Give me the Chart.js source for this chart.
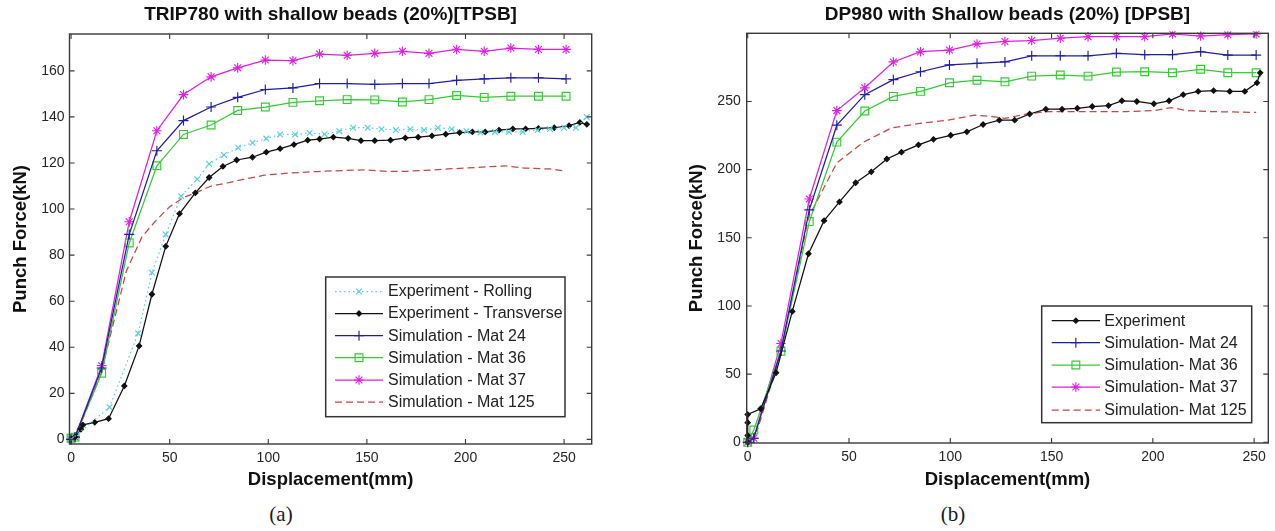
<!DOCTYPE html>
<html>
<head>
<meta charset="utf-8">
<script src="https://cdn.jsdelivr.net/npm/chart.js@4.4.1/dist/chart.umd.min.js"></script>
<style>
  html, body { margin:0; padding:0; background:#fff; width:1275px; height:531px; overflow:hidden; }
  #cA { position:absolute; left:0; top:0; }
  #cB { position:absolute; left:640px; top:0; }
  .cap { position:absolute; top:502px; font-family:"Liberation Serif","Times New Roman",serif; font-size:21px; color:#1a1a1a; transform:translateX(-50%); }
</style>
</head>
<body>
<canvas id="cA" width="640" height="500"></canvas>
<canvas id="cB" width="635" height="500"></canvas>
<div class="cap" style="left:281px">(a)</div>
<div class="cap" style="left:953px">(b)</div>
<script>
// ---------- Chart (a): TRIP780 ----------
const xTicksA = [0, 50, 100, 150, 200, 250];
const yTicksA = [0, 20, 40, 60, 80, 100, 120, 140, 160];
const simX_A  = [0, 2, 15.5, 29.5, 43.5, 57, 71, 84.5, 98.5, 112.5, 126, 140, 154, 168, 181.5, 195.5, 209.5, 223, 237, 251];
const mat24_A = [0, 1, 31, 89, 125.3, 138.4, 144.3, 148.5, 151.9, 152.6, 154.5, 154.5, 154.1, 154.5, 154.5, 155.9, 156.5, 157, 157, 156.5];
const mat36_A = [0.5, 1, 28.7, 85.3, 118.8, 132.4, 136.5, 142.8, 144.3, 146.3, 147, 147.5, 147.4, 146.5, 147.5, 149.3, 148.5, 149, 149, 149];
const mat37_A = [0, 1, 32, 94.5, 134, 149.7, 157.4, 161.3, 164.7, 164.4, 167.3, 166.7, 167.6, 168.5, 167.6, 169.3, 168.5, 169.9, 169.3, 169.3];
const mat125X_A = [0, 5, 15, 28, 36, 43, 50, 57, 63, 71, 80, 88, 98, 110, 125, 140, 150, 160, 170, 180, 191, 205, 220, 230, 243, 250];
const mat125_A  = [0, 7, 28, 73, 88, 95, 101, 105, 107, 110, 111.5, 113, 114.7, 115.6, 116.3, 116.8, 117, 116.4, 116.4, 116.8, 117.4, 118, 118.8, 117.8, 117.4, 116.6];
const transX_A = [0, 2, 5, 6, 12, 19, 27, 34.5, 41, 48, 55, 63, 70, 77, 84, 92, 99, 106, 113, 120, 126, 133, 140.5, 147, 154, 162, 169.5, 176, 183, 190, 197, 203.5, 210, 217, 224, 230.5, 237, 245, 252.5, 258, 261.5];
const trans_A  = [0, 1, 4.4, 6.3, 7.4, 9, 23.2, 40.6, 63, 83.8, 98, 107, 113.7, 118.5, 121.3, 122.5, 124.7, 126.2, 128, 129.9, 130.4, 131.2, 130.7, 129.7, 129.7, 129.9, 130.9, 131.2, 131.8, 132.5, 133.2, 133.5, 133.5, 134.3, 134.8, 134.8, 135, 135.3, 136.2, 137.6, 136.8];
const rollX_A = [0, 19.5, 34, 41, 48, 55.8, 64, 70, 77.5, 84.7, 92, 99, 106, 113.6, 121, 128.5, 136, 143, 150.4, 157.4, 164.7, 172, 179, 186, 193, 200.5, 207.6, 215, 222, 229, 236.6, 242.8, 250, 256, 261.5];
const roll_A  = [0, 14, 46, 72.4, 89, 105.6, 113, 119.6, 123.5, 126.6, 128.8, 130.6, 132.4, 132.4, 133, 132.5, 133.8, 135.3, 135.3, 134.7, 134.3, 134.7, 134.3, 135.3, 134.7, 133.8, 133.2, 133.5, 133.5, 133.5, 134.3, 134.7, 135.3, 135.3, 140];

// ---------- Chart (b): DP980 ----------
const xTicksB = [0, 50, 100, 150, 200, 250];
const yTicksB = [0, 50, 100, 150, 200, 250];
const simX_B  = [0, 3, 16.4, 30.4, 44, 57.8, 71.9, 85.3, 99.6, 113.2, 127, 140.2, 154.3, 168, 182, 196, 209.7, 223.6, 237, 251];
const mat24_B = [0, 3, 67, 170.5, 232.6, 255, 266, 271.8, 276.8, 278, 279, 283.5, 283.5, 283.5, 285.3, 284.3, 284.3, 286.5, 284, 284];
const mat36_B = [0, 9, 66.8, 161.9, 220.2, 243, 253.7, 257.4, 263.7, 265.6, 264.4, 268.6, 269.4, 268.6, 271.6, 271.8, 271.1, 273.6, 271.1, 271.1];
const mat37_B = [0, 3, 72.5, 178.5, 243.3, 260, 279, 286.5, 287.7, 292.2, 294, 294.7, 296.4, 297.5, 297.5, 297.5, 299.5, 298, 299, 299.5];
const mat125X_B = [0, 5, 16.4, 30, 44, 57, 71, 85, 99, 112, 121, 127, 137, 147, 167, 187, 201, 209, 217, 227, 251];
const mat125_B  = [0, 10, 66, 165, 205, 220, 230.6, 233.9, 236.3, 240, 238.8, 237.6, 240.6, 242.6, 242.6, 242.6, 243.3, 245.5, 243.3, 242.6, 242];
const expX_B = [0, 0, 0, 0, 6.4, 14, 22, 30, 37.7, 45.3, 53.3, 61, 68.7, 75.9, 84.3, 91.7, 100.2, 108.2, 116.2, 124.2, 131.8, 139.2, 147.2, 155.2, 162.7, 170.1, 178.1, 184.7, 192.1, 200.5, 208, 215, 222.4, 230, 238, 245.4, 251.4, 253];
const exp_B  = [0, 5, 14.4, 20.4, 24.6, 51, 96, 138.3, 162.6, 176.3, 190.4, 198.4, 207.8, 212.8, 218.2, 222.2, 225.2, 227.7, 233.1, 236.3, 236.3, 240.8, 244.3, 244.3, 245, 246.3, 247, 250.5, 250, 248.3, 250.5, 255, 257.4, 257.9, 257.4, 257.4, 263.7, 271];

const FONT = '"Liberation Sans", Arial, Helvetica, sans-serif';
Chart.defaults.font.family = FONT;
Chart.defaults.color = '#262626';

function pts(xs, ys) { return xs.map((x, i) => ({x: x, y: ys[i]})); }

const COL = { cyan:'#55cfe0', black:'#111111', blue:'#1e1ea8', green:'#33cc33', magenta:'#e020e0', red:'#c84646' };

function ds(label, data, color, style, radius, opts) {
  return Object.assign({
    label: label, data: data, borderColor: color, borderWidth: 1.25,
    pointStyle: style, pointRadius: radius, pointHoverRadius: radius,
    pointBorderColor: color, pointBackgroundColor: 'rgba(0,0,0,0)', pointBorderWidth: 1.15,
    tension: 0, fill: false, clip: {left: 8, bottom: 8, right: 8, top: 2}
  }, opts || {});
}

function drawMarker(ctx, style, x, y, r, stroke, fill) {
  ctx.save();
  ctx.strokeStyle = stroke; ctx.fillStyle = fill; ctx.lineWidth = 1.15;
  ctx.beginPath();
  const d = r * Math.SQRT1_2;
  if (style === 'cross' || style === 'star') { ctx.moveTo(x - r, y); ctx.lineTo(x + r, y); ctx.moveTo(x, y - r); ctx.lineTo(x, y + r); }
  if (style === 'crossRot' || style === 'star') { ctx.moveTo(x - d, y - d); ctx.lineTo(x + d, y + d); ctx.moveTo(x + d, y - d); ctx.lineTo(x - d, y + d); }
  if (style === 'rect') { ctx.rect(x - d, y - d, 2 * d, 2 * d); }
  if (style === 'rectRot') { ctx.moveTo(x, y - r); ctx.lineTo(x + r, y); ctx.lineTo(x, y + r); ctx.lineTo(x - r, y); ctx.closePath(); ctx.fill(); }
  ctx.stroke();
  ctx.restore();
}

const framePlugin = {
  id: 'frame',
  afterDatasetsDraw(chart) {
    const {ctx, chartArea: a} = chart;
    const sx = chart.scales.x, sy = chart.scales.y;
    ctx.save();
    ctx.strokeStyle = '#3a3a3a';
    ctx.lineWidth = 1.4;
    ctx.strokeRect(a.left, a.top, a.right - a.left, a.bottom - a.top);
    ctx.lineWidth = 1.1;
    ctx.beginPath();
    const L = 5;
    sx.ticks.forEach(t => {
      const p = sx.getPixelForValue(t.value);
      ctx.moveTo(p, a.bottom); ctx.lineTo(p, a.bottom - L);
      ctx.moveTo(p, a.top); ctx.lineTo(p, a.top + L);
    });
    sy.ticks.forEach(t => {
      const p = sy.getPixelForValue(t.value);
      ctx.moveTo(a.left, p); ctx.lineTo(a.left + L, p);
      ctx.moveTo(a.right, p); ctx.lineTo(a.right - L, p);
    });
    ctx.stroke();
    ctx.restore();
  }
};

const legendPlugin = {
  id: 'boxLegend',
  afterDraw(chart, args, o) {
    const ctx = chart.ctx;
    ctx.save();
    ctx.fillStyle = '#ffffff';
    ctx.fillRect(o.box[0], o.box[1], o.box[2] - o.box[0], o.box[3] - o.box[1]);
    ctx.strokeStyle = '#333333'; ctx.lineWidth = 1.5;
    ctx.strokeRect(o.box[0], o.box[1], o.box[2] - o.box[0], o.box[3] - o.box[1]);
    chart.data.datasets.forEach((d, i) => {
      const yy = o.rows[i];
      ctx.strokeStyle = d.borderColor; ctx.lineWidth = d.borderWidth;
      ctx.setLineDash(d.borderDash || []);
      ctx.beginPath(); ctx.moveTo(o.line[0], yy); ctx.lineTo(o.line[1], yy); ctx.stroke();
      ctx.setLineDash([]);
      if (d.pointRadius > 0) drawMarker(ctx, d.pointStyle, (o.line[0] + o.line[1]) / 2, yy, d.pointRadius, d.pointBorderColor, d.pointBackgroundColor);
      ctx.fillStyle = '#222222';
      ctx.font = '16px ' + FONT;
      ctx.textBaseline = 'middle'; ctx.textAlign = 'left';
      ctx.fillText(d.label, o.textX, yy + 0.5);
    });
    ctx.restore();
  }
};

function makeChart(id, cfg) {
  const TITLE_SIZE = 19;
  const LABEL_SIZE = 18.5;
  const titleTop = 3;
  return new Chart(document.getElementById(id), {
    type: 'line',
    data: { datasets: cfg.datasets },
    plugins: [framePlugin, legendPlugin],
    options: {
      responsive: false, animation: false, devicePixelRatio: 1,
      layout: { padding: { left: 0, right: cfg.padRight, top: 0, bottom: 0 } },
      plugins: {
        legend: { display: false },
        tooltip: { enabled: false },
        title: {
          display: true, text: cfg.title, fullSize: false, color: '#111',
          font: { size: TITLE_SIZE, weight: 'bold', lineHeight: 1.2 },
          padding: { top: titleTop, bottom: cfg.areaTop - titleTop - TITLE_SIZE * 1.2 }
        },
        boxLegend: cfg.legend
      },
      scales: {
        x: {
          type: 'linear', min: cfg.xMin, max: cfg.xMax,
          grid: { display: false, drawTicks: false }, border: { display: false },
          afterBuildTicks: s => { s.ticks = cfg.xTicks.map(v => ({value: v})); },
          afterFit: s => { s.height = cfg.xAxisH; },
          ticks: { padding: 6, font: { size: 14 }, color: '#262626', maxRotation: 0, autoSkip: false },
          title: { display: true, text: 'Displacement(mm)', color: '#111', font: { size: LABEL_SIZE, weight: 'bold', lineHeight: 1.2 }, padding: { top: 0, bottom: 8.9 } }
        },
        y: {
          type: 'linear', min: cfg.yMin, max: cfg.yMax,
          grid: { display: false, drawTicks: false }, border: { display: false },
          afterBuildTicks: s => { s.ticks = cfg.yTicks.map(v => ({value: v})); },
          afterFit: s => { s.width = cfg.yAxisW; },
          ticks: { padding: cfg.yTickPad, font: { size: 14 }, color: '#262626', autoSkip: false },
          title: { display: true, text: 'Punch Force(kN)', color: '#111', font: { size: LABEL_SIZE, weight: 'bold', lineHeight: 1.2 }, padding: { top: cfg.yTitlePad, bottom: 0 } }
        }
      }
    }
  });
}

makeChart('cA', {
  title: 'TRIP780 with shallow beads (20%)[TPSB]',
  padRight: 48.3, areaTop: 34, xAxisH: 56, yAxisW: 69.5, yTickPad: 5, yTitlePad: 9.5,
  xMin: -0.8, xMax: 264, yMin: -2, yMax: 176, xTicks: xTicksA, yTicks: yTicksA,
  legend: { box: [325.7, 277, 565, 416.7], rows: [291.5, 313.5, 335.7, 357.7, 380, 402], line: [335, 383], textX: 388 },
  datasets: [
    ds('Experiment - Rolling', pts(rollX_A, roll_A), COL.cyan, 'crossRot', 4, { borderDash: [1.5, 3] }),
    ds('Experiment - Transverse', pts(transX_A, trans_A), COL.black, 'rectRot', 2.6, { pointBackgroundColor: COL.black }),
    ds('Simulation - Mat 24', pts(simX_A, mat24_A), COL.blue, 'cross', 5),
    ds('Simulation - Mat 36', pts(simX_A, mat36_A), COL.green, 'rect', 5.5),
    ds('Simulation - Mat 37', pts(simX_A, mat37_A), COL.magenta, 'star', 4.8),
    ds('Simulation - Mat 125', pts(mat125X_A, mat125_A), COL.red, 'circle', 0, { borderDash: [7, 4] })
  ]
});

makeChart('cB', {
  title: 'DP980 with Shallow beads (20%) [DPSB]',
  padRight: 6.7, areaTop: 33.3, xAxisH: 57, yAxisW: 106.7, yTickPad: 6, yTitlePad: 46,
  xMin: -0.5, xMax: 257, yMin: -0.5, yMax: 300, xTicks: xTicksB, yTicks: yTicksB,
  legend: { box: [401.7, 306, 611.7, 422.7], rows: [320.7, 342.7, 365, 387, 410], line: [411.7, 460], textX: 464.3 },
  datasets: [
    ds('Experiment', pts(expX_B, exp_B), COL.black, 'rectRot', 2.6, { pointBackgroundColor: COL.black }),
    ds('Simulation- Mat 24', pts(simX_B, mat24_B), COL.blue, 'cross', 5),
    ds('Simulation- Mat 36', pts(simX_B, mat36_B), COL.green, 'rect', 5.5),
    ds('Simulation- Mat 37', pts(simX_B, mat37_B), COL.magenta, 'star', 4.8),
    ds('Simulation- Mat 125', pts(mat125X_B, mat125_B), COL.red, 'circle', 0, { borderDash: [7, 4] })
  ]
});
</script>
</body>
</html>
